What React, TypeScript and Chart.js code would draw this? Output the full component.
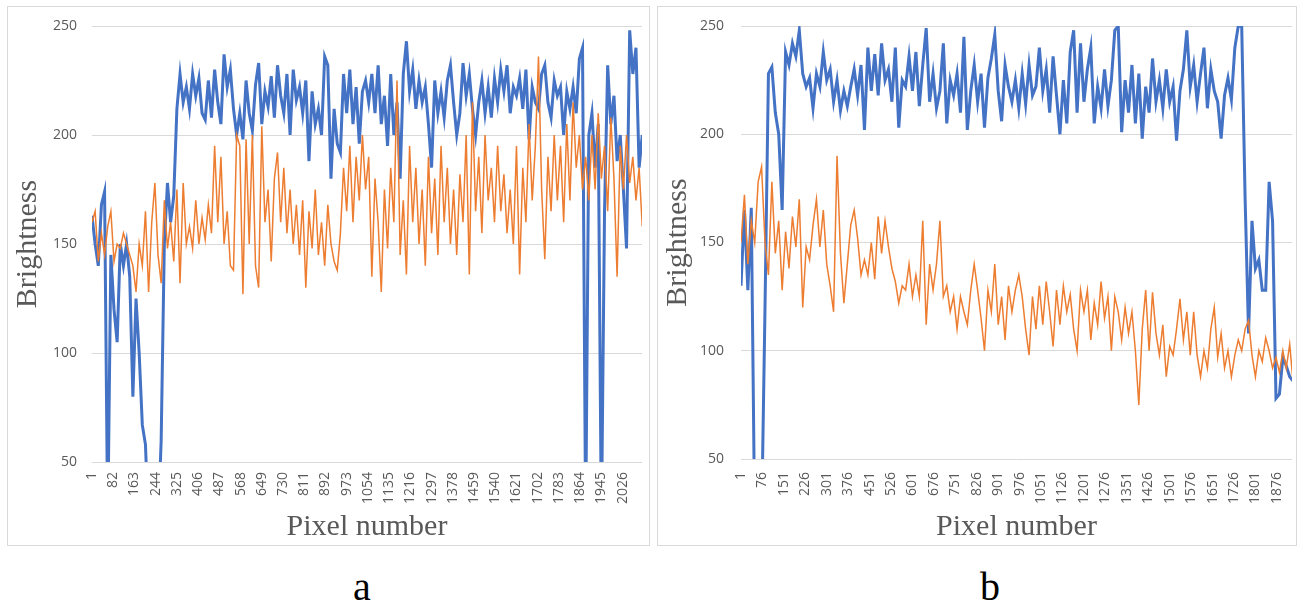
import React, { useEffect, useRef } from "react";
import { Chart, registerables } from "chart.js";

Chart.register(...registerables);

// Pixel-number spacing between the samples
const SAMPLE_STEP = 12;

const xTicksA = [1, 82, 163, 244, 325, 406, 487, 568, 649, 730, 811, 892, 973, 1054, 1135, 1216, 1297, 1378, 1459, 1540, 1621, 1702, 1783, 1864, 1945, 2026];
const xTicksB = [1, 76, 151, 226, 301, 376, 451, 526, 601, 676, 751, 826, 901, 976, 1051, 1126, 1201, 1276, 1351, 1426, 1501, 1576, 1651, 1726, 1801, 1876];
const yTicks = [50, 100, 150, 200, 250];

const blueA = [
  163, 150, 140, 168, 174, 20, 145, 120, 105, 150,
  140, 150, 135, 80, 125, 100, 67, 58, 20, 20,
  20, 20, 60, 150, 178, 160, 172, 212, 228, 215,
  222, 212, 228, 218, 226, 210, 207, 225, 208, 230,
  215, 205, 237, 222, 230, 212, 200, 210, 198, 225,
  210, 202, 223, 233, 205, 220, 213, 227, 208, 232,
  218, 210, 228, 200, 230, 216, 222, 210, 225, 188,
  220, 205, 212, 200, 236, 232, 180, 212, 196, 192,
  228, 210, 230, 205, 222, 196, 220, 225, 215, 228,
  210, 232, 205, 218, 195, 228, 200, 215, 180, 228,
  243, 220, 230, 212, 225, 215, 222, 205, 185, 225,
  210, 220, 208, 225, 232, 215, 200, 210, 233, 218,
  228, 212, 200, 215, 225, 210, 222, 208, 226, 215,
  230, 220, 232, 210, 222, 218, 226, 212, 230, 198,
  222, 215, 212, 228, 232, 215, 208, 225, 218, 222,
  200, 220, 212, 222, 210, 235, 240, 20, 200, 210,
  185, 205, 20, 165, 232, 205, 218, 188, 200, 175,
  148, 248, 228, 240, 185, 200,
];

const orangeA = [
  160, 165, 142, 155, 145, 158, 165, 142, 150, 148,
  155, 150, 145, 140, 128, 150, 140, 165, 128, 160,
  178, 145, 132, 170, 148, 160, 142, 175, 132, 178,
  150, 158, 148, 170, 150, 162, 152, 168, 155, 195,
  160, 190, 150, 165, 140, 138, 200, 195, 127, 198,
  150, 200, 140, 130, 204, 160, 175, 142, 180, 192,
  160, 185, 155, 175, 150, 168, 145, 170, 130, 165,
  148, 175, 145, 160, 140, 168, 150, 142, 138, 155,
  185, 165, 195, 160, 190, 170, 200, 175, 190, 135,
  180, 160, 128, 175, 148, 185, 160, 225, 145, 170,
  136, 195, 160, 185, 150, 175, 140, 190, 155, 180,
  145, 195, 160, 185, 150, 175, 145, 182, 160, 200,
  136, 215, 165, 190, 155, 200, 170, 185, 160, 195,
  165, 182, 155, 175, 150, 195, 136, 185, 160, 205,
  170, 195, 236, 175, 143, 190, 165, 200, 170, 195,
  160, 205, 170, 215, 185, 200, 175, 190, 170, 200,
  175, 210, 180, 195, 165, 208, 180, 135, 195, 175,
  200, 178, 190, 170, 185, 158,
];

const blueB = [
  130, 165, 128, 166, 20, 20, 20, 120, 228, 231,
  210, 200, 165, 238, 232, 242, 236, 248, 228, 222,
  226, 212, 228, 222, 238, 225, 230, 215, 225, 211,
  220, 213, 222, 230, 218, 232, 202, 240, 220, 237,
  218, 242, 225, 230, 215, 240, 203, 225, 222, 236,
  220, 238, 213, 232, 249, 215, 228, 212, 220, 242,
  205, 225, 218, 228, 210, 245, 202, 220, 232, 215,
  228, 203, 226, 235, 246, 220, 206, 232, 222, 215,
  225, 212, 228, 214, 232, 218, 222, 240, 220, 230,
  210, 236, 218, 200, 225, 205, 238, 248, 210, 242,
  215, 230, 240, 205, 222, 212, 230, 213, 225, 248,
  250, 201, 225, 210, 232, 205, 228, 198, 222, 210,
  235, 215, 225, 212, 230, 215, 222, 197, 220, 230,
  248, 222, 232, 215, 228, 240, 212, 230, 220, 215,
  198, 218, 226, 216, 240, 250, 250, 170, 108, 160,
  138, 142, 128, 128, 178, 160, 78, 80, 97, 93,
  88, 86,
];

const orangeB = [
  150, 172, 140, 160, 150, 178, 185, 150, 135, 178,
  145, 160, 128, 155, 138, 162, 148, 170, 120, 148,
  142, 158, 170, 148, 165, 140, 130, 118, 190, 145,
  122, 140, 158, 165, 152, 135, 142, 135, 150, 133,
  162, 145, 160, 148, 138, 132, 122, 130, 128, 140,
  125, 135, 125, 160, 112, 140, 128, 140, 160, 125,
  130, 118, 125, 110, 125, 118, 112, 128, 140, 128,
  115, 100, 128, 118, 140, 112, 125, 105, 130, 118,
  128, 135, 125, 110, 98, 125, 110, 130, 112, 132,
  118, 102, 128, 112, 130, 118, 126, 110, 100, 128,
  118, 128, 105, 122, 112, 132, 115, 125, 100, 125,
  118, 105, 120, 108, 118, 100, 75, 110, 128, 100,
  127, 108, 98, 112, 88, 102, 98, 110, 124, 105,
  118, 98, 118, 98, 88, 100, 92, 110, 120, 97,
  108, 92, 100, 88, 98, 105, 100, 110, 114, 98,
  88, 100, 95, 106, 100, 92, 97, 90, 100, 92,
  103, 85,
];

const BLUE = "#4472C4";
const ORANGE = "#ED7D31";
const AXIS_TEXT = "#595959";
const GRID = "#d9d9d9";

function toPoints(values: number[]) {
  return values.map((v, i) => ({ x: 1 + i * SAMPLE_STEP, y: v }));
}

type PanelProps = {
  blue: number[];
  orange: number[];
  xTicks: number[];
  xMax: number;
  width: number;
  height: number;
  yAxisWidth: number;
  xAxisHeight: number;
  padRight: number;
  xTickPad: number;
  yTickPad: number;
};

function Panel(props: PanelProps) {
  const ref = useRef<HTMLCanvasElement>(null);
  useEffect(() => {
    const tickFont = { family: "'Open Sans', 'Noto Sans', sans-serif", size: 14 };
    const titleFont = { family: "'Liberation Serif', serif", size: 30 };
    const chart = new Chart(ref.current as HTMLCanvasElement, {
      type: "line",
      data: {
        datasets: [
          {
            data: toPoints(props.orange),
            borderColor: ORANGE,
            backgroundColor: ORANGE,
            borderWidth: 1.5,
            pointRadius: 0,
            tension: 0,
            order: 0,
          },
          {
            data: toPoints(props.blue),
            borderColor: BLUE,
            backgroundColor: BLUE,
            borderWidth: 3,
            pointRadius: 0,
            tension: 0,
            order: 1,
          },
        ],
      },
      options: {
        responsive: false,
        animation: false,
        events: [],
        layout: { padding: { top: 19, right: props.padRight, bottom: 0, left: 0 } },
        plugins: { legend: { display: false }, tooltip: { enabled: false } },
        scales: {
          x: {
            type: "linear",
            min: 1,
            max: props.xMax,
            afterBuildTicks: (s: any) => {
              s.ticks = props.xTicks.map((v) => ({ value: v }));
            },
            afterFit: (s: any) => {
              s.height = props.xAxisHeight;
              s.paddingLeft = 0;
              s.paddingRight = 0;
            },
            grid: { display: false, drawTicks: false },
            border: { display: false },
            ticks: {
              autoSkip: false,
              minRotation: 90,
              maxRotation: 90,
              padding: props.xTickPad,
              color: AXIS_TEXT,
              font: tickFont,
              callback: (v: any) => String(v),
            },
            title: {
              display: true,
              text: "Pixel number",
              color: AXIS_TEXT,
              font: titleFont,
              padding: { top: 0, bottom: 0 },
            },
          },
          y: {
            min: 50,
            max: 250,
            afterBuildTicks: (s: any) => {
              s.ticks = yTicks.map((v) => ({ value: v }));
            },
            afterFit: (s: any) => {
              s.width = props.yAxisWidth;
              s.paddingTop = 0;
              s.paddingBottom = 0;
            },
            grid: { color: GRID, lineWidth: 1, drawTicks: false },
            border: { display: false },
            ticks: {
              padding: props.yTickPad,
              color: AXIS_TEXT,
              font: tickFont,
              callback: (v: any) => String(v),
            },
            title: {
              display: true,
              text: "Brightness",
              color: AXIS_TEXT,
              font: titleFont,
              padding: { top: 2, bottom: 0 },
            },
          },
        },
      },
    } as any);
    return () => chart.destroy();
  }, []);
  return (
    <canvas
      ref={ref}
      width={props.width}
      height={props.height}
      style={{ display: "block", width: props.width, height: props.height }}
    />
  );
}

const panelStyle = (left: number, width: number): React.CSSProperties => ({
  position: "absolute",
  left,
  top: 6,
  width,
  height: 540,
  boxSizing: "border-box",
  border: `1px solid ${GRID}`,
  background: "#fff",
});

const letterStyle = (center: number): React.CSSProperties => ({
  position: "absolute",
  left: center - 50,
  width: 100,
  top: 567,
  textAlign: "center",
  fontFamily: "'Liberation Serif', serif",
  fontSize: 40,
  lineHeight: "40px",
  color: "#000",
});

export default function App() {
  return (
    <div style={{ position: "absolute", left: 0, top: 0, width: 1308, height: 608, background: "#fff" }}>
      <div style={panelStyle(7, 643)}>
        <Panel
          blue={blueA}
          orange={orangeA}
          xTicks={xTicksA}
          xMax={2100}
          width={641}
          height={538}
          yAxisWidth={84}
          xAxisHeight={83}
          padRight={7}
          xTickPad={10}
          yTickPad={15}
        />
      </div>
      <div style={panelStyle(657, 640)}>
        <Panel
          blue={blueB}
          orange={orangeB}
          xTicks={xTicksB}
          xMax={1929}
          width={638}
          height={538}
          yAxisWidth={83}
          xAxisHeight={86}
          padRight={4}
          xTickPad={13}
          yTickPad={17}
        />
      </div>
      <div style={letterStyle(362)}>a</div>
      <div style={letterStyle(990)}>b</div>
    </div>
  );
}
